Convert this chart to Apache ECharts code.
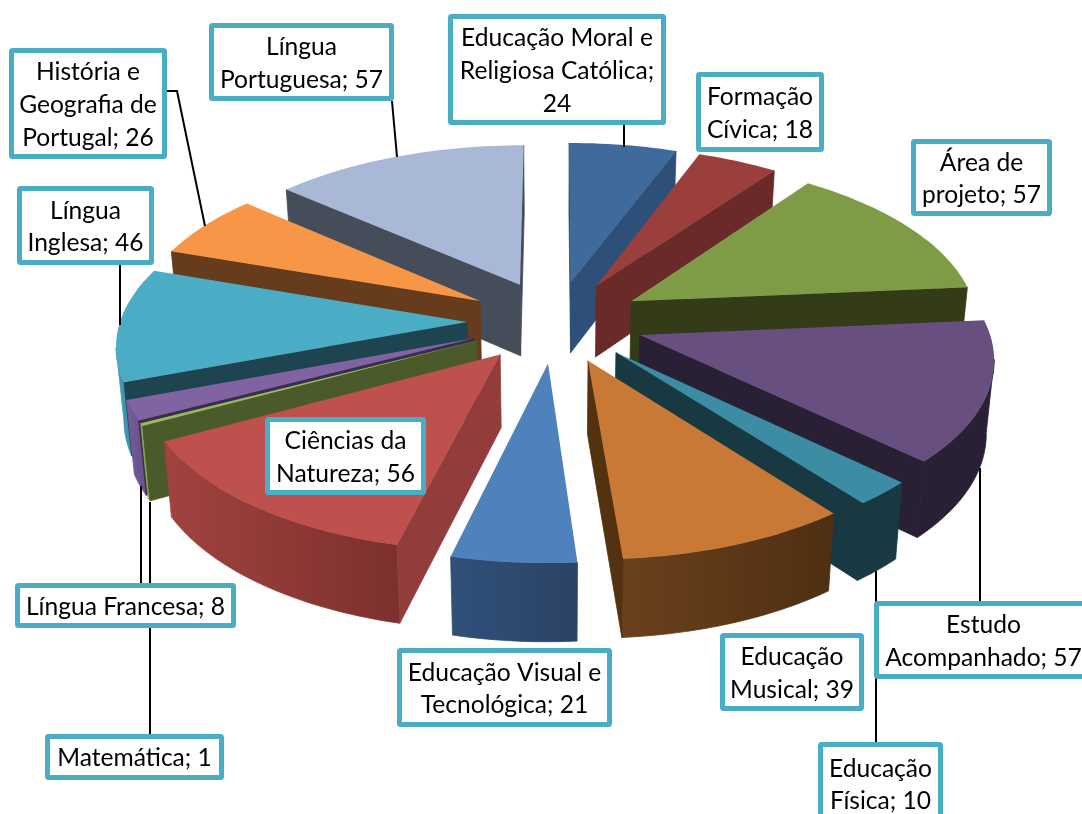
<!DOCTYPE html>
<html><head><meta charset="utf-8">
<style>html,body{margin:0;padding:0;background:#fff}#c{width:1082px;height:814px}</style>
<script src="https://cdn.jsdelivr.net/npm/echarts@6/dist/echarts.min.js"></script>
</head><body><div id="c"></div>
<script>
const subjects = ['Educação Moral e Religiosa Católica','Formação Cívica','Área de projeto','Estudo Acompanhado','Educação Física','Educação Musical','Educação Visual e Tecnológica','Ciências da Natureza','Matemática','Língua Francesa','Língua Inglesa','História e Geografia de Portugal','Língua Portuguesa'];
const hours = [24,18,57,57,10,39,21,56,1,8,46,26,57];
const labelLines = ['Educação Moral e\nReligiosa Católica;\n24','Formação\nCívica; 18','Área de\nprojeto; 57','Estudo\nAcompanhado; 57','Educação\nFísica; 10','Educação\nMusical; 39','Educação Visual e\nTecnológica; 21','Ciências da\nNatureza; 56','Matemática; 1','Língua Francesa; 8','Língua\nInglesa; 46','História e\nGeografia de\nPortugal; 26','Língua\nPortuguesa; 57'];
const topColors = ['#3E6A9C','#9B3F3D','#7E9C45','#674F80','#3C8CA3','#C87935','#4F81BD','#BE504D','#9BBB59','#8064A2','#4BACC6','#F79646','#A9B8D6'];
const sideColors = ['#2D4F78','#6A2A2A','#333B19','#2A2035','#183842','#54310F','#2F4C70','#923D3B','#4B5A2A','#3A2C50','#1E4450','#673C1C','#454C5A'];
const rimLeft = ['#2D4F78','#6A2A2A','#333B19','#2A2035','#183842','#6B401C','#30507A','#A1433F','#8BA850','#7A5F9C','#45A0B8','#673C1C','#454C5A'];
const rimRight = ['#2D4F78','#6A2A2A','#333B19','#2A2035','#183842','#4E2F12','#2B4364','#7C302D','#8BA850','#6A5390','#3F95AD','#673C1C','#454C5A'];
// label boxes [left, top, right, bottom]
const boxes = [[448,14,666,125],[696,72,824,152],[911,139,1052,216],[874,601,1093,679],[818,742,943,825],[720,633,864,711],[397,648,612,727],[265,417,426,495],[45,734,224,780],[15,583,236,628],[17,186,154,265],[9,48,167,159],[209,23,394,101]];
// leader polylines from label box to slice
const leaders = [[[624,125],[624,147]],[],[],[[980,601],[980,468]],[[876,742],[876,571]],[],[],[],[[150,734],[150,502]],[[141,583],[141,486]],[[120,265],[120,325]],[[167,91],[177,91],[205,226]],[[392,101],[397,157]]];

const total = hours.reduce((a,b)=>a+b,0);
const starts = []; hours.reduce((a,b,i)=>{starts[i]=a;return a+b;},0);
const CX=555.5, CY=321.3, A=347, B=164.5, PERSP=0.12, EXPL=0.25, EXPLX=0.2545, H=72, TAPER=0.982;
const rad = d=>d*Math.PI/180;
function proj(X,Y,low){
  const s=1/(1+PERSP*Y);
  const x=A*X*s;
  return low ? [CX+x*TAPER, CY-B*Y*s+H*Math.pow(s,0.55)] : [CX+x, CY-B*Y*s];
}
function renderSlice(params,api){
  const i=api.value(0), value=api.value(1), start=api.value(2);
  const t0=start/total*360, t1=(start+value)/total*360, tm=(t0+t1)/2;
  const ox=EXPLX*Math.sin(rad(tm)), oy=EXPL*Math.cos(rad(tm));
  const steps=Math.max(2,Math.ceil((t1-t0)/1.5));
  const world=[];
  for(let k=0;k<=steps;k++){const t=rad(t0+(t1-t0)*k/steps);world.push([ox+Math.sin(t),oy+Math.cos(t)]);}
  const topArc=world.map(w=>proj(w[0],w[1],false));
  const lowArc=world.map(w=>proj(w[0],w[1],true));
  const apexT=proj(ox,oy,false), apexL=proj(ox,oy,true);
  const midArc=topArc[Math.floor(steps/2)];
  const children=[];
  // outer rim: only the stretch that faces the viewer
  let run=[];
  for(let k=0;k<steps;k++){ if(topArc[k+1][0]<topArc[k][0]){ if(!run.length)run.push(k); run.push(k+1);} }
  if(run.length>1){
    const pts=run.map(k=>topArc[k]).concat(run.slice().reverse().map(k=>lowArc[k]));
    const xa=topArc[run[run.length-1]][0], xb=topArc[run[0]][0];
    const grad=new echarts.graphic.LinearGradient(xa,0,xb,0,[{offset:0,color:rimLeft[i]},{offset:1,color:rimRight[i]}],true);
    children.push({type:'polygon',shape:{points:pts},style:{fill:grad,stroke:grad,lineWidth:0.8}});
  }
  // radial cut faces
  [[topArc[0],lowArc[0]],[topArc[steps],lowArc[steps]]].forEach(e=>{
    const ex=e[0][0]-apexT[0], ey=e[0][1]-apexT[1];
    const down=ex*1, inner=ex*(midArc[1]-apexT[1])-ey*(midArc[0]-apexT[0]);
    if(down*inner<0){
      children.push({type:'polygon',shape:{points:[apexT,e[0],e[1],apexL]},style:{fill:sideColors[i],stroke:sideColors[i],lineWidth:0.8}});
    }
  });
  children.push({type:'polygon',shape:{points:[apexT].concat(topArc)},style:{fill:topColors[i]}});
  return {type:'group',children};
}
function renderLeader(params,api){
  const pts=leaders[api.value(0)];
  if(!pts.length) return {type:'group',children:[]};
  return {type:'polyline',shape:{points:pts},style:{stroke:'#000',lineWidth:2,fill:'none'}};
}
function renderBox(params,api){
  const i=api.value(0), b=boxes[i];
  return {type:'group',children:[
    {type:'rect',shape:{x:b[0]+2.5,y:b[1]+2.5,width:b[2]-b[0]-5,height:b[3]-b[1]-5,r:1},style:{fill:'#fff',stroke:'#4BACC6',lineWidth:5}},
    {type:'text',style:{x:(b[0]+b[2])/2,y:(b[1]+b[3])/2+1.5,text:labelLines[i],align:'center',verticalAlign:'middle',font:'24.6px Lato, "Open Sans", sans-serif',lineHeight:32.6,fill:'#000'}}
  ]};
}
const order=hours.map((v,i)=>i).sort((a,b)=>{
  const m=i=>Math.cos(rad((starts[i]+hours[i]/2)/total*360));
  return m(b)-m(a);
});
const chart=echarts.init(document.getElementById('c'),null,{renderer:'canvas'});
chart.setOption({
  animation:false,
  backgroundColor:'#fff',
  series:[
    {type:'custom',coordinateSystem:'none',silent:true,z:1,renderItem:renderSlice,data:order.map(i=>[i,hours[i],starts[i]])},
    {type:'custom',coordinateSystem:'none',silent:true,z:2,renderItem:renderLeader,data:hours.map((v,i)=>[i])},
    {type:'custom',coordinateSystem:'none',silent:true,z:3,renderItem:renderBox,data:hours.map((v,i)=>[i])}
  ]
});
</script></body></html>
